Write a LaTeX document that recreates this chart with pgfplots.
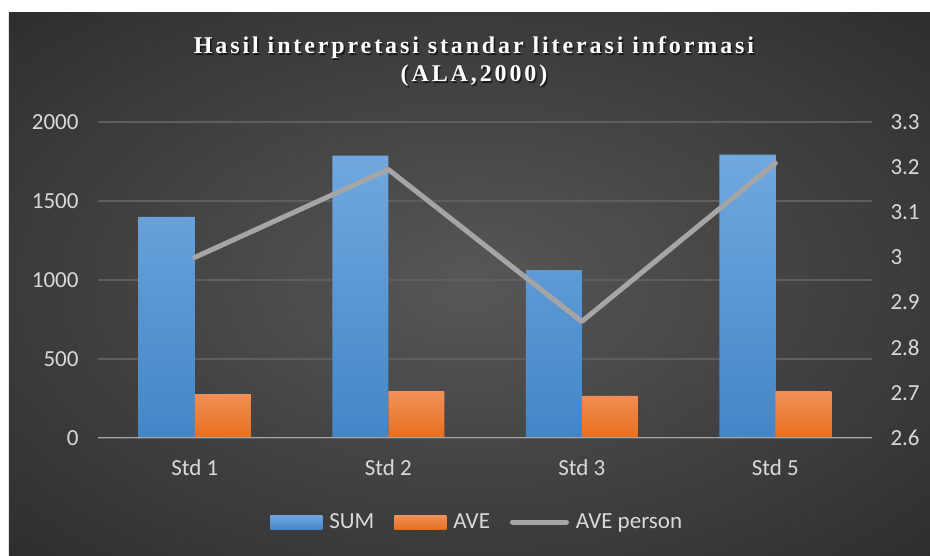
\documentclass[border=0pt]{standalone}
\usepackage{pgfplots}
\pgfplotsset{compat=1.18}
\usepackage{fontspec}
\setmainfont{Carlito}
\newfontfamily\titlefont[LetterSpace=12]{Liberation Serif}
\definecolor{bgin}{HTML}{575757}
\definecolor{bgout}{HTML}{2B2B2B}
\definecolor{gridc}{HTML}{5E5E5E}
\definecolor{basec}{HTML}{A6A6A6}
\definecolor{labc}{HTML}{D9D9D9}
\definecolor{bluetop}{HTML}{70A8DF}
\definecolor{bluebot}{HTML}{4386C7}
\definecolor{orgtop}{HTML}{F2905A}
\definecolor{orgbot}{HTML}{E86F1D}
\definecolor{linec}{HTML}{A5A5A5}
\pgfdeclareradialshading{bgshade}{\pgfpoint{0bp}{0bp}}{color(0bp)=(bgin); color(38bp)=(bgout); color(50bp)=(bgout)}
\begin{document}
\begin{tikzpicture}[x=1bp,y=1bp]
\fill[white] (-98,-118) rectangle (832,438);
\shade[shading=bgshade] (-89,-118) rectangle (832,425);
\node[text=black, opacity=0.6, align=center, font=\titlefont\bfseries\fontsize{24bp}{28bp}\selectfont] at (377.5,374.5) {Hasil interpretasi standar literasi informasi\\(ALA,2000)};
\node[text=white, align=center, font=\titlefont\bfseries\fontsize{24bp}{28bp}\selectfont] at (376,376) {Hasil interpretasi standar literasi informasi\\(ALA,2000)};
\begin{axis}[
  at={(0,0)}, anchor=south west,
  scale only axis, width=774bp, height=316bp,
  xmin=-0.5, xmax=3.5, ymin=0, ymax=2000,
  ytick={0,500,1000,1500,2000},
  yticklabels={0,500,1000,1500,2000},
  xtick={0,1,2,3}, xticklabels={Std 1,Std 2,Std 3,Std 5},
  axis line style={draw=none}, tick style={draw=none},
  ymajorgrids, grid style={gridc, line width=1.2bp},
  ybar=0pt, bar width=56bp,
  ticklabel style={font=\fontsize{23bp}{27bp}\selectfont, text=labc},
  yticklabel style={xshift=-16bp},
  xticklabel style={yshift=-14bp},
]
\addplot[draw=none, top color=bluetop, bottom color=bluebot] coordinates {(0,1400) (1,1787) (2,1063) (3,1793)};
\addplot[draw=none, top color=orgtop, bottom color=orgbot] coordinates {(0,278) (1,297) (2,266) (3,297)};
\draw[basec, line width=2.2bp] (rel axis cs:0,0) -- (rel axis cs:1,0);
\end{axis}
\begin{axis}[
  at={(0,0)}, anchor=south west,
  scale only axis, width=774bp, height=316bp,
  xmin=-0.5, xmax=3.5, ymin=2.6, ymax=3.3,
  axis x line=none, axis y line*=right,
  axis line style={draw=none}, tick style={draw=none},
  ytick={2.6,2.7,2.8,2.9,3,3.1,3.2,3.3},
  yticklabels={2.6,2.7,2.8,2.9,3,3.1,3.2,3.3},
  ticklabel style={font=\fontsize{23bp}{27bp}\selectfont, text=labc},
  yticklabel style={xshift=15bp},
  legend columns=3,
  legend style={at={(0.49,-0.266)}, anchor=center, draw=none, fill=none,
    font=\fontsize{23bp}{27bp}\selectfont, text=labc,
    /tikz/every odd column/.append style={column sep=5bp},
    /tikz/every even column/.append style={column sep=18bp}},
]
\addlegendimage{draw=none, legend image code/.code={\path[draw=none, top color=bluetop, bottom color=bluebot] (0bp,-7bp) rectangle (52bp,7bp);}}
\addlegendentry{SUM}
\addlegendimage{draw=none, legend image code/.code={\path[draw=none, top color=orgtop, bottom color=orgbot] (0bp,-7bp) rectangle (52bp,7bp);}}
\addlegendentry{AVE}
\addplot[linec, line width=5bp, line cap=round, line join=round, mark=none, forget plot] coordinates {(0,3.0) (1,3.195) (2,2.858) (3,3.209)};
\addlegendimage{legend image code/.code={\draw[linec, line width=5bp, line cap=round] (2bp,0bp) -- (56bp,0bp);}}
\addlegendentry{AVE person}
\end{axis}
\end{tikzpicture}
\end{document}
